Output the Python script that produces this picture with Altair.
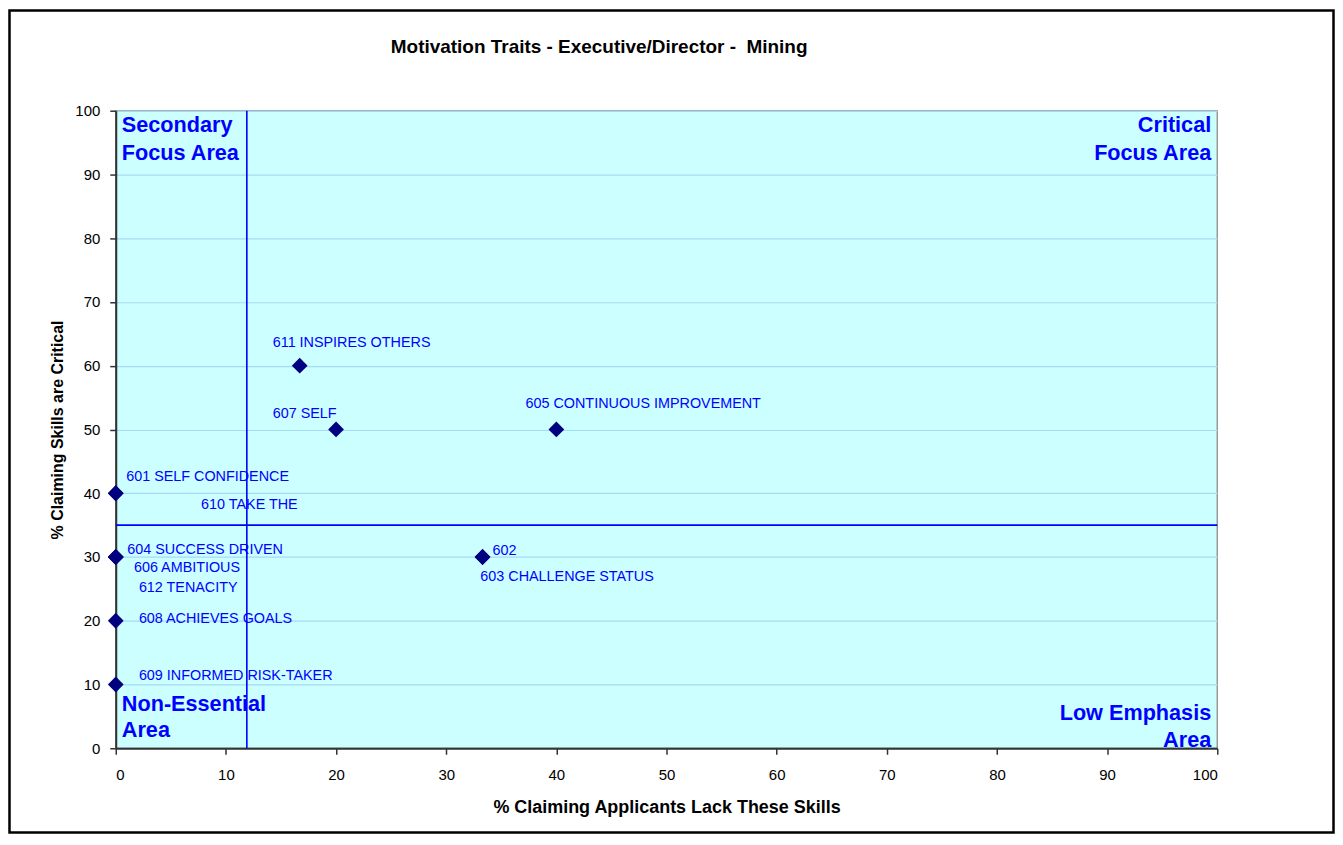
import altair as alt
import pandas as pd

# ---- data ----
title_text = "Motivation Traits - Executive/Director - \u00a0Mining"
names = ["601 SELF CONFIDENCE", "602", "603 CHALLENGE STATUS", "604 SUCCESS DRIVEN",
         "605 CONTINUOUS IMPROVEMENT", "606 AMBITIOUS", "607 SELF", "608 ACHIEVES GOALS",
         "609 INFORMED RISK-TAKER", "610 TAKE THE", "611 INSPIRES OTHERS", "612 TENACITY"]
lack = [0, 33.3, 33.3, 0, 40, 0, 20, 0, 0, 0, 16.7, 0]
critical = [40, 30, 30, 30, 50, 30, 50, 20, 10, 40, 60, 30]
# where each data label sits (data units)
label_x = [0.95, 34.2, 33.1, 1.05, 37.2, 1.65, 14.25, 2.1, 2.1, 7.75, 14.25, 2.1]
label_y = [42.5, 31.0, 26.9, 31.1, 54.0, 28.2, 52.4, 20.3, 11.4, 38.2, 63.5, 25.2]

# averages shown as quadrant dividers
avg_lack = 11.9
avg_critical = 35

quad_text = ["Secondary", "Focus Area", "Non-Essential", "Area",
             "Critical", "Focus Area", "Low Emphasis", "Area"]
quad_side = ["left", "left", "left", "left", "right", "right", "right", "right"]
quad_x = [0.55, 0.55, 0.55, 0.55, 99.45, 99.45, 99.45, 99.45]
quad_y = [97.8, 93.4, 7.0, 2.8, 97.8, 93.4, 5.6, 1.3]

x_ticks = list(range(0, 101, 10))
y_ticks = list(range(0, 101, 10))

W, H = 1104, 639
PAD = {"left": 108, "top": 102, "right": 118, "bottom": 86}

FONT = "Liberation Sans"
BLUE = "#0000FF"

pts = pd.DataFrame({"name": names, "lack": lack, "critical": critical,
                    "lx": label_x, "ly": label_y})
quad = pd.DataFrame({"text": quad_text, "side": quad_side, "qx": quad_x, "qy": quad_y})

xscale = alt.Scale(domain=[0, 100], nice=False, zero=False)
yscale = alt.Scale(domain=[0, 100], nice=False, zero=False)

xaxis = alt.Axis(values=x_ticks, grid=False, title="% Claiming Applicants Lack These Skills",
                 titleFont=FONT, titleFontSize=18, titleFontWeight="bold", titleColor="black",
                 titleY=59, titleBaseline="middle",
                 labelFont=FONT, labelFontSize=15, labelColor="black", labelPadding=13,
                 domainColor="#333333", domainWidth=2, tickColor="#333333", tickSize=6, tickWidth=1.5)
yaxis = alt.Axis(values=y_ticks, grid=True, gridColor="#A8D8F4", gridWidth=1.2,
                 title="% Claiming Skills are Critical",
                 titleFont=FONT, titleFontSize=16, titleFontWeight="bold", titleColor="black",
                 titleX=-58, titleY=H / 2, titleBaseline="middle", titleAngle=-90,
                 labelFont=FONT, labelFontSize=15, labelColor="black", labelPadding=10,
                 domainColor="#333333", domainWidth=2, tickColor="#333333", tickSize=6, tickWidth=1.5)

base = alt.Chart(pts)

labels = base.mark_text(align="left", baseline="middle", font=FONT, fontSize=14.4, color=BLUE).encode(
    x=alt.X("lx:Q", scale=xscale, axis=xaxis),
    y=alt.Y("ly:Q", scale=yscale, axis=yaxis),
    text="name:N",
)

points = base.mark_point(shape="diamond", filled=True, size=250, color="#000080", opacity=1).encode(
    x=alt.X("lack:Q", scale=xscale),
    y=alt.Y("critical:Q", scale=yscale),
)

quad_left = alt.Chart(quad).transform_filter(alt.datum.side == "left").mark_text(
    align="left", baseline="middle", font=FONT, fontSize=21.7, fontWeight="bold", color=BLUE
).encode(x=alt.X("qx:Q", scale=xscale), y=alt.Y("qy:Q", scale=yscale), text="text:N")

quad_right = alt.Chart(quad).transform_filter(alt.datum.side == "right").mark_text(
    align="right", baseline="middle", font=FONT, fontSize=21.7, fontWeight="bold", color=BLUE
).encode(x=alt.X("qx:Q", scale=xscale), y=alt.Y("qy:Q", scale=yscale), text="text:N")

vline = alt.Chart(pd.DataFrame({"v": [avg_lack]})).mark_rule(color=BLUE, strokeWidth=1.6).encode(
    x=alt.X("v:Q", scale=xscale), y=alt.datum(0), y2=alt.datum(100)
)
hline = alt.Chart(pd.DataFrame({"h": [avg_critical]})).mark_rule(color=BLUE, strokeWidth=1.6).encode(
    y=alt.Y("h:Q", scale=yscale), x=alt.datum(0), x2=alt.datum(100)
)

border = alt.Chart(alt.Data(values=[{}])).mark_rect(filled=False, stroke="black", strokeWidth=2.5).encode(
    x=alt.value(-PAD["left"] + 1.5),
    x2=alt.value(W + PAD["right"] - 1.5),
    y=alt.value(-PAD["top"] + 1.5),
    y2=alt.value(H + PAD["bottom"] - 1.5),
)

title = alt.Chart(alt.Data(values=[{"t": title_text}])).mark_text(
    align="center", baseline="middle", font=FONT, fontSize=19, fontWeight="bold", color="black"
).encode(x=alt.value(484.5), y=alt.value(-64), text="t:N")

chart = alt.layer(quad_left, quad_right, labels, points, vline, hline, border, title).properties(
    width=W, height=H,
    padding=PAD,
    autosize=alt.AutoSizeParams(type="none"),
    background="white",
).configure_view(fill="#CCFFFF", stroke="#999999", strokeWidth=1.5)

chart.save("out.html", embed_options={"renderer": "svg", "actions": False})
